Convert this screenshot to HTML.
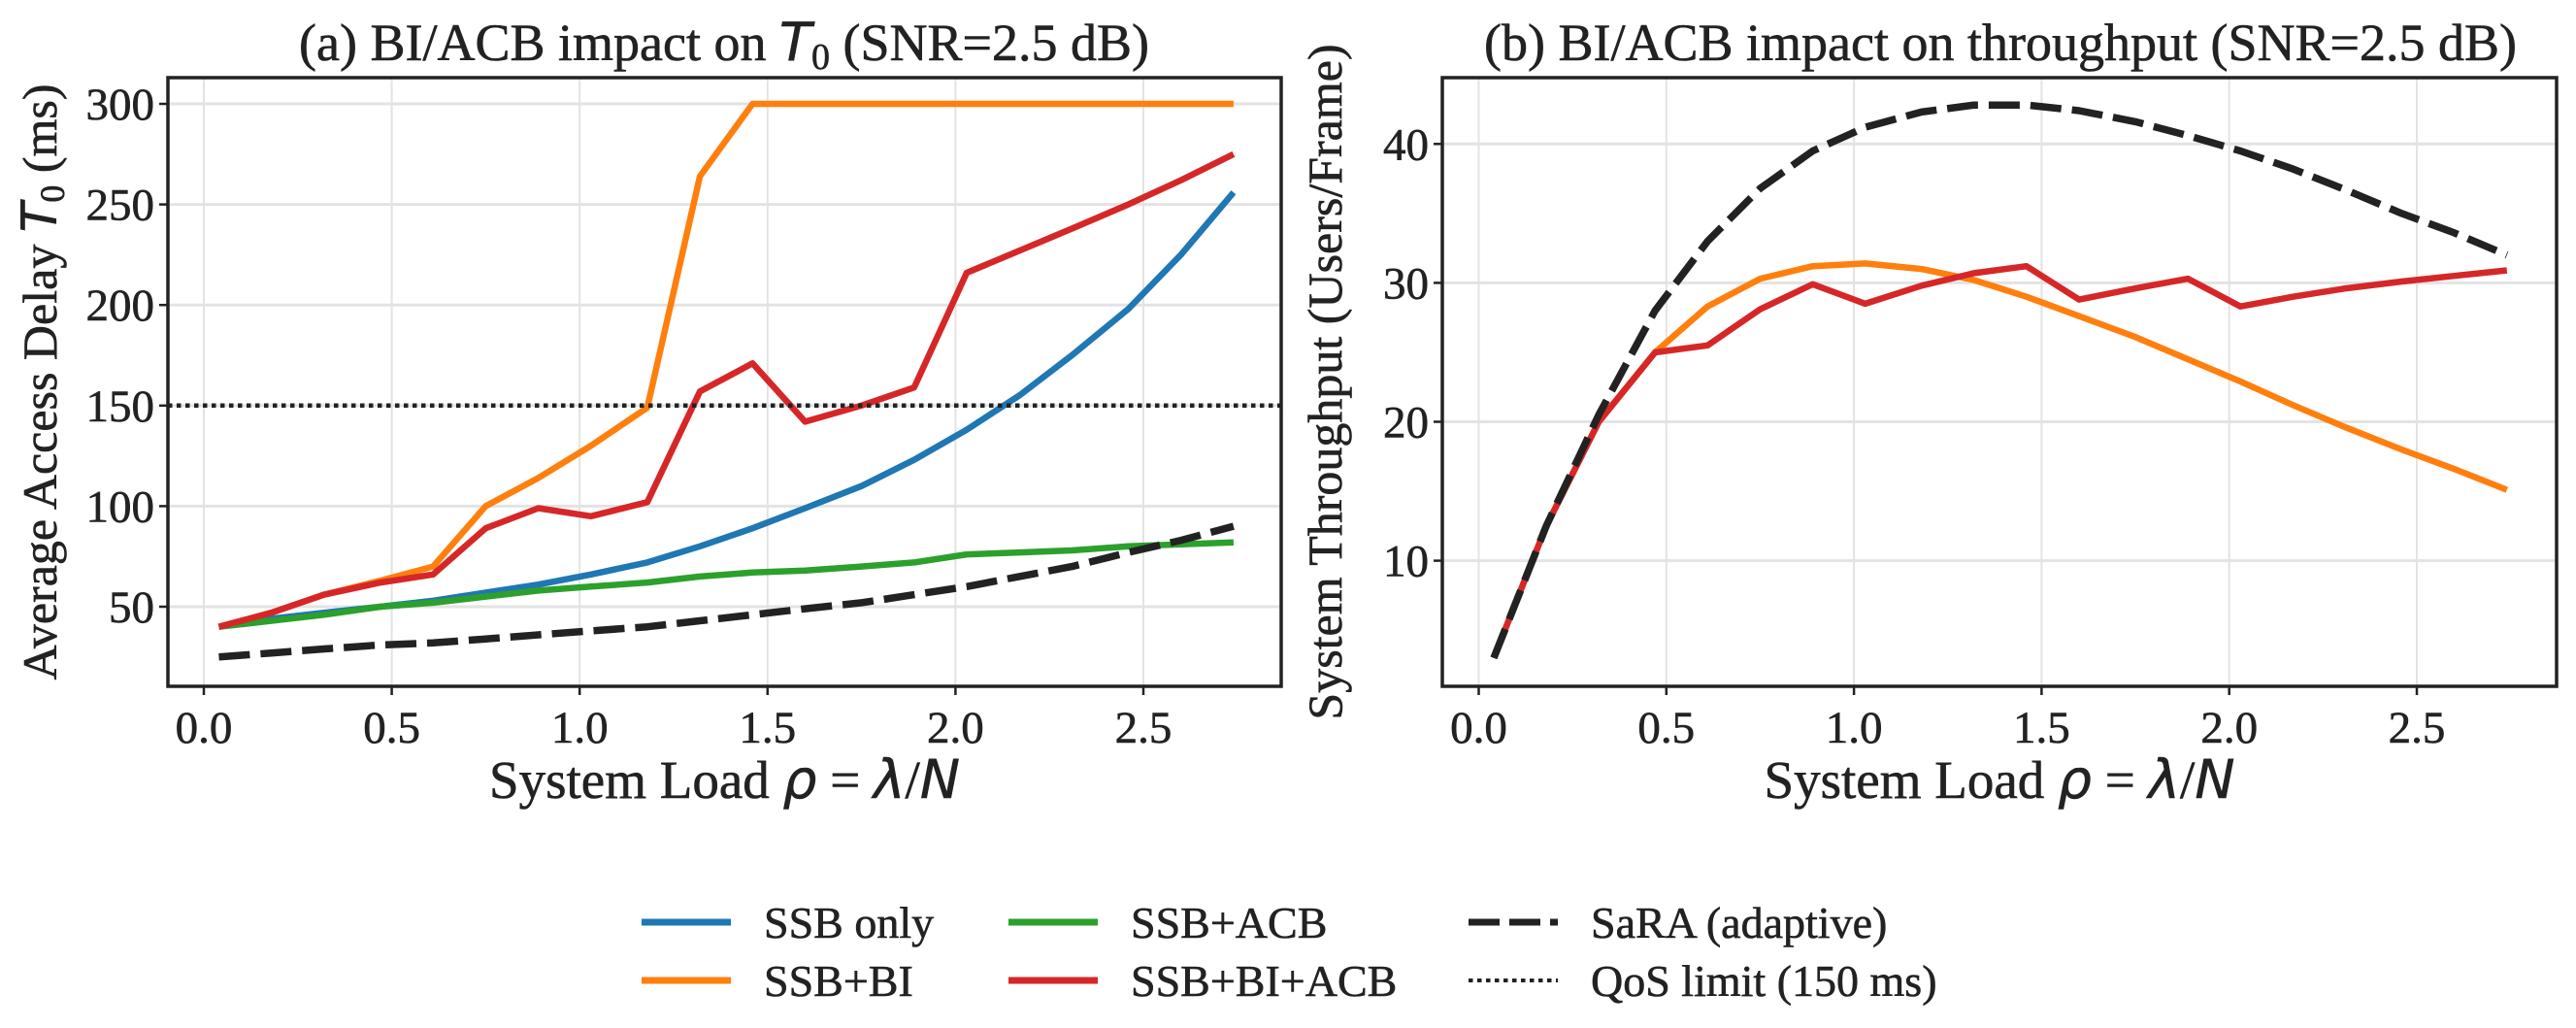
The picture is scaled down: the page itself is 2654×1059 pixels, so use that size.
<!DOCTYPE html>
<html><head><meta charset="utf-8"><style>
html,body{margin:0;padding:0;background:#fff;}
svg{display:block;font-family:"Liberation Serif","DejaVu Serif",serif;}
text{stroke:#222;stroke-width:0.6px;}
</style></head><body>
<svg id="fig" width="2654" height="1059" viewBox="0 0 2654 1059" xmlns="http://www.w3.org/2000/svg">
<rect width="2654" height="1059" fill="#fff"/>
<g id="pa"></g>
<g id="pb"></g>
<g id="legend"></g>
</svg>
<script>
const xs = [0.04,0.18,0.32,0.47,0.61,0.75,0.89,1.03,1.18,1.32,1.46,1.60,1.75,1.89,2.03,2.17,2.31,2.46,2.60,2.74];
const delaySSB = [40,44,47,50,53,57,61,66,72,80,89,99,110,123,138,155,175,198,225,256];
const delayBI = [40,47,56,63,70,100,114,130,149,264,300,300,300,300,300,300,300,300,300,300];
const delayACB = [40,43,46,50,52,55,58,60,62,65,67,68,70,72,76,77,78,80,81,82];
const delayBIACB = [40,47,56,62,66,89,99,95,102,157,171,142,150,159,216,227,238,250,262,275];
const delaySaRA = [25,27,29,31,32,34,36,38,40,43,46,49,52,56,60,65,70,77,83,90];
const qosLimit = 150;
const thrBI = [3,12.5,20,25,28.3,30.3,31.2,31.4,31,30.2,29,27.6,26.1,24.5,22.9,21.2,19.6,18,16.6,15.1];
const thrBIACB = [3,12.5,20,25,25.5,28.1,29.9,28.5,29.8,30.7,31.2,28.8,29.6,30.3,28.3,29,29.6,30.1,30.5,30.9];
const thrSaRA = [3,12.5,20.5,28,33,36.8,39.5,41.2,42.3,42.8,42.8,42.4,41.6,40.6,39.5,38.2,36.7,35,33.6,32];
const xTicks = [0,0.5,1,1.5,2,2.5];
const xTickLabels = ["0.0","0.5","1.0","1.5","2.0","2.5"];
const yTicksA = [50,100,150,200,250,300];
const yTicksB = [10,20,30,40];

const NS="http://www.w3.org/2000/svg";
function mk(tag,attrs,parent){const e=document.createElementNS(NS,tag);for(const k in attrs)e.setAttribute(k,attrs[k]);parent.appendChild(e);return e;}
const C={blue:"#1f77b4",orange:"#ff7f0e",green:"#2ca02c",red:"#d62728",black:"#222"};

function panel(g,cfg){
  const {L,R,T,B,xf,yf,yTicks,title,ylabel,cx,ylx}=cfg;
  for(const t of xTicks){const x=xf(t);
    const gl=mk("line",{x1:x,x2:x,y1:T,y2:B,stroke:"#e3e3e3","stroke-width":2},g);
    
    
  }
  for(const t of yTicks){const y=yf(t);
    const gl=mk("line",{x1:L,x2:R,y1:y,y2:y,stroke:"#e3e3e3","stroke-width":3},g);
    
    
  }
  const clip=mk("clipPath",{id:"clip"+cfg.id},g);mk("rect",{x:L,y:T,width:R-L,height:B-T},clip);
  const lines=mk("g",{"clip-path":"url(#clip"+cfg.id+")"},g);
  for(const s of cfg.series){
    let d="";s.vals.forEach((v,i)=>{d+=(i?"L":"M")+xf(xs[i]).toFixed(1)+","+yf(v).toFixed(1);});
    const p=mk("path",{d:d,fill:"none",stroke:s.color,"stroke-width":s.w||6.5,"stroke-linejoin":"round","stroke-dasharray":s.dash||"none"},lines);
    
    
  }
  if(cfg.hline!==undefined){
    const hl=mk("line",{x1:L,x2:R,y1:yf(cfg.hline),y2:yf(cfg.hline),stroke:"#222","stroke-width":4.5,"stroke-dasharray":"4.5,4.5"},lines);
    
    
  }
  mk("rect",{x:L,y:T,width:R-L,height:B-T,fill:"none",stroke:"#222","stroke-width":3.5},g);
  xTicks.forEach((t,i)=>{const x=xf(t);
    mk("line",{x1:x,x2:x,y1:B,y2:B+9,stroke:"#222","stroke-width":2.5},g);
    const tx=mk("text",{x:x,y:B+58,"font-size":47,"text-anchor":"middle",fill:"#222"},g);tx.textContent=xTickLabels[i];
    
    
  });
  yTicks.forEach(t=>{const y=yf(t);
    mk("line",{x1:L-9,x2:L,y1:y,y2:y,stroke:"#222","stroke-width":2.5},g);
    const tx=mk("text",{x:L-14,y:y+16,"font-size":47,"text-anchor":"end",fill:"#222"},g);tx.textContent=String(t);
    
    
  });
  const ti=mk("text",{x:cx,y:62,"font-size":54,"text-anchor":"middle",fill:"#222"},g);ti.innerHTML=title;
  
  
  const xl=mk("text",{x:(L+R)/2,y:822,"font-size":55,"text-anchor":"middle",fill:"#222"},g);
  xl.innerHTML='System Load <tspan font-style="italic" font-family="DejaVu Sans">ρ</tspan> = <tspan font-style="italic" font-family="DejaVu Sans">λ</tspan>/<tspan font-style="italic" font-family="DejaVu Sans">N</tspan>';
  
  
  const yl=mk("text",{x:0,y:0,"font-size":50,"text-anchor":"middle",fill:"#222",transform:`translate(${ylx},${(T+B)/2}) rotate(-90)`},g);
  yl.innerHTML=ylabel;
  
  
}

const xA=v=>210+v*387.2, yA=v=>625-(v-50)*2.072;
panel(document.getElementById("pa"),{id:"a",L:173,R:1320,T:80,B:707,xf:xA,yf:yA,yTicks:yTicksA,cx:746,ylx:58,
  title:'(a) BI/ACB impact on <tspan font-style="italic" font-family="DejaVu Sans">T</tspan><tspan font-size="38" dy="9">0</tspan><tspan dy="-9"> (SNR=2.5 dB)</tspan>',
  ylabel:'Average Access Delay <tspan font-style="italic" font-family="DejaVu Sans">T</tspan><tspan font-size="36" dy="8">0</tspan><tspan dy="-8"> (ms)</tspan>',
  hline:qosLimit,
  series:[{name:"ssb-only-line",vals:delaySSB,color:C.blue},{name:"ssb-bi-line",vals:delayBI,color:C.orange},
    {name:"ssb-acb-line",vals:delayACB,color:C.green},{name:"ssb-bi-acb-line",vals:delayBIACB,color:C.red},
    {name:"sara-line",vals:delaySaRA,color:C.black,w:7.5,dash:"32,11"}]});
const xB=v=>1523.5+v*386.6, yB=v=>577.6-(v-10)*14.31;
panel(document.getElementById("pb"),{id:"b",L:1486,R:2634,T:80,B:707,xf:xB,yf:yB,yTicks:yTicksB,cx:2061,ylx:1382,
  title:'(b) BI/ACB impact on throughput (SNR=2.5 dB)',
  ylabel:'System Throughput (Users/Frame)',
  series:[{name:"ssb-bi-line",vals:thrBI,color:C.orange},{name:"ssb-bi-acb-line",vals:thrBIACB,color:C.red},
    {name:"sara-line",vals:thrSaRA,color:C.black,w:7.5,dash:"32,11"}]});

const lg=document.getElementById("legend");
const entries=[
 {x:661,y:950,label:"SSB only",color:C.blue},{x:661,y:1010,label:"SSB+BI",color:C.orange},
 {x:1039,y:950,label:"SSB+ACB",color:C.green},{x:1039,y:1010,label:"SSB+BI+ACB",color:C.red},
 {x:1513,y:950,label:"SaRA (adaptive)",color:C.black,dash:"32,10",w:7},{x:1513,y:1010,label:"QoS limit (150 ms)",color:C.black,dash:"4.5,4.5",w:4}];
entries.forEach(e=>{
  const g=mk("g",{},lg);
  
  
  mk("line",{x1:e.x,x2:e.x+92,y1:e.y,y2:e.y,stroke:e.color,"stroke-width":e.w||7,"stroke-dasharray":e.dash||"none"},g);
  const t=mk("text",{x:e.x+126,y:e.y+16,"font-size":46,fill:"#222"},g);t.textContent=e.label;
});
</script>
</body></html>
